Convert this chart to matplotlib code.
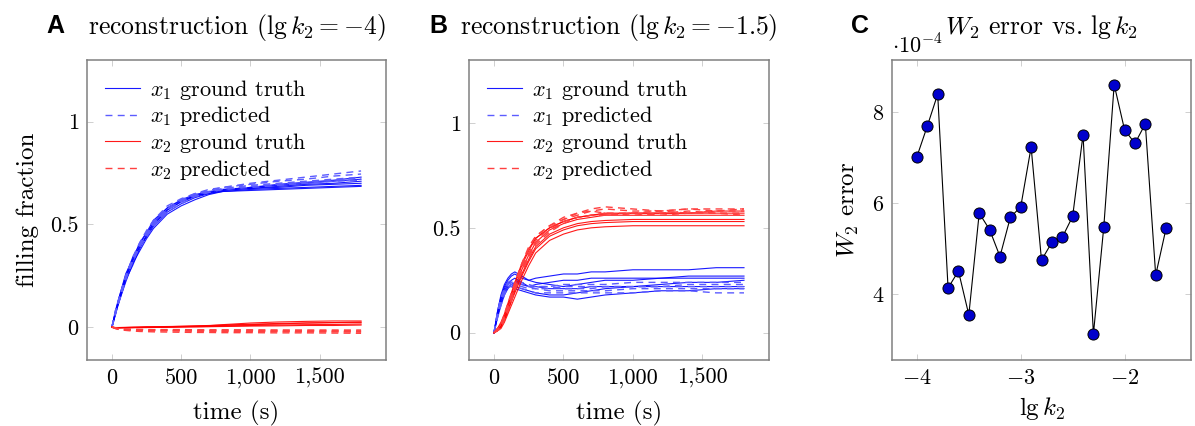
"""Reconstruction trajectories for two k2 values and the W2 error sweep over lg k2."""
import matplotlib
matplotlib.use("Agg")
import matplotlib.pyplot as plt
from matplotlib.ticker import FuncFormatter, FixedLocator

plt.rcParams["font.family"] = "serif"
plt.rcParams["font.serif"] = ["cmr10"]
plt.rcParams["mathtext.fontset"] = "cm"
plt.rcParams["axes.formatter.use_mathtext"] = True

# --- data --------------------------------------------------------------------------------
# panel A: lg k2 = -4
t_a = [0, 25, 50, 100, 150, 200, 250, 300, 400, 500, 600, 700, 800, 1000, 1200, 1400, 1600, 1800]
a_x1_truth = [
    [0, .07, .13, .24, .32, .39, .44, .49, .56, .60, .63, .65, .665, .675, .68, .69, .695, .70],
    [0, .06, .12, .22, .31, .37, .43, .48, .55, .59, .62, .645, .66, .67, .675, .68, .685, .69],
    [0, .08, .14, .25, .34, .40, .46, .50, .57, .61, .64, .655, .665, .68, .69, .70, .71, .72],
    [0, .07, .12, .23, .30, .38, .45, .51, .58, .62, .645, .66, .67, .675, .685, .695, .70, .71],
    [0, .06, .13, .24, .33, .39, .44, .50, .57, .61, .635, .655, .67, .68, .695, .705, .715, .73],
    [0, .07, .14, .26, .33, .41, .46, .52, .58, .615, .64, .65, .66, .665, .67, .675, .68, .685],
]
a_x1_pred = [
    [0, .07, .13, .24, .33, .40, .46, .51, .58, .62, .65, .67, .68, .70, .715, .73, .745, .76],
    [0, .07, .12, .23, .32, .39, .45, .50, .57, .61, .64, .66, .675, .69, .70, .71, .72, .73],
    [0, .06, .13, .25, .33, .40, .45, .50, .57, .615, .645, .66, .67, .685, .695, .705, .715, .725],
    [0, .08, .14, .25, .34, .41, .47, .52, .59, .625, .65, .665, .68, .695, .71, .72, .735, .745],
    [0, .07, .13, .24, .32, .39, .44, .49, .56, .60, .635, .655, .67, .68, .69, .70, .71, .715],
]
a_x2_truth = [
    [0, -.003, -.003, -.002, -.002, -.001, 0, 0, .001, .002, .004, .006, .008, .012, .015, .02, .022, .025],
    [0, -.002, -.002, -.001, 0, 0, .002, .002, .003, .004, .006, .008, .01, .014, .018, .02, .022, .022],
    [0, -.004, -.004, -.003, -.003, -.002, -.002, -.001, 0, .002, .002, .003, .005, .008, .01, .012, .013, .015],
    [0, -.003, -.003, -.003, -.002, -.002, -.002, -.001, -.001, 0, .001, .002, .003, .005, .006, .008, .008, .01],
    [0, -.002, -.002, -.002, -.001, 0, 0, 0, .002, .004, .005, .007, .012, .02, .025, .028, .03, .03],
]
a_x2_pred = [
    [0, -.005, -.008, -.01, -.012, -.012, -.013, -.013, -.014, -.014, -.015, -.015, -.015, -.016, -.016, -.017, -.017, -.018],
    [0, -.006, -.01, -.013, -.015, -.016, -.017, -.018, -.018, -.019, -.02, -.02, -.021, -.022, -.022, -.023, -.023, -.024],
    [0, -.007, -.012, -.016, -.019, -.021, -.022, -.023, -.024, -.025, -.026, -.026, -.027, -.027, -.028, -.028, -.029, -.03],
    [0, -.004, -.007, -.009, -.01, -.011, -.011, -.012, -.012, -.012, -.013, -.013, -.013, -.013, -.014, -.014, -.014, -.014],
    [0, -.006, -.009, -.011, -.013, -.014, -.015, -.016, -.016, -.017, -.018, -.018, -.019, -.02, -.02, -.021, -.021, -.022],
]

# panel B: lg k2 = -1.5
t_b = [0, 25, 50, 75, 100, 125, 150, 200, 250, 300, 400, 500, 600, 700, 800, 1000, 1200, 1400, 1600, 1800]
b_x1_truth = [
    [0, .10, .17, .22, .25, .27, .28, .26, .25, .26, .27, .28, .28, .29, .29, .30, .30, .30, .31, .31],
    [0, .08, .15, .20, .23, .25, .26, .24, .22, .23, .24, .25, .25, .26, .26, .26, .26, .27, .27, .27],
    [0, .09, .16, .21, .24, .23, .22, .21, .20, .19, .18, .18, .19, .20, .21, .22, .23, .24, .24, .25],
    [0, .07, .13, .18, .21, .23, .24, .23, .22, .22, .21, .21, .21, .22, .22, .22, .22, .22, .22, .22],
    [0, .10, .18, .23, .26, .28, .29, .27, .25, .24, .23, .22, .23, .24, .25, .25, .26, .26, .26, .26],
    [0, .08, .14, .19, .22, .22, .21, .20, .19, .18, .17, .17, .16, .17, .18, .19, .20, .20, .21, .21],
]
b_x1_pred = [
    [0, .09, .16, .20, .23, .24, .25, .24, .23, .22, .22, .21, .21, .21, .22, .22, .22, .23, .23, .23],
    [0, .07, .13, .18, .22, .23, .23, .22, .21, .21, .20, .20, .20, .20, .20, .21, .21, .21, .21, .21],
    [0, .10, .17, .21, .24, .25, .25, .23, .22, .22, .22, .23, .23, .23, .23, .24, .24, .24, .24, .24],
    [0, .08, .15, .19, .22, .22, .22, .21, .20, .19, .19, .19, .19, .19, .19, .19, .20, .20, .19, .19],
    [0, .09, .15, .20, .23, .24, .24, .23, .22, .21, .21, .22, .22, .22, .22, .22, .22, .22, .22, .22],
]
b_x2_truth = [
    [0, .01, .03, .07, .12, .17, .21, .30, .37, .43, .49, .52, .54, .55, .56, .56, .56, .56, .56, .56],
    [0, .01, .02, .05, .09, .13, .17, .25, .32, .38, .44, .47, .49, .50, .505, .51, .51, .51, .51, .51],
    [0, .02, .04, .08, .13, .18, .23, .32, .39, .45, .50, .53, .55, .56, .57, .57, .57, .57, .58, .58],
    [0, .01, .03, .06, .11, .15, .20, .28, .35, .41, .47, .50, .52, .53, .535, .54, .54, .54, .54, .54],
    [0, .02, .05, .09, .14, .19, .24, .33, .40, .45, .50, .53, .55, .56, .565, .57, .57, .57, .57, .57],
    [0, .01, .03, .06, .10, .15, .19, .27, .34, .40, .46, .49, .51, .52, .525, .53, .53, .53, .53, .53],
]
b_x2_pred = [
    [0, .01, .03, .07, .12, .16, .22, .31, .38, .44, .50, .54, .56, .58, .59, .58, .58, .59, .58, .59],
    [0, .02, .04, .08, .13, .18, .23, .32, .40, .46, .51, .54, .57, .58, .57, .57, .58, .57, .58, .58],
    [0, .01, .02, .06, .10, .15, .20, .29, .36, .42, .48, .52, .55, .56, .56, .57, .56, .57, .57, .56],
    [0, .02, .04, .09, .14, .19, .24, .33, .41, .46, .51, .55, .57, .59, .60, .59, .58, .59, .59, .59],
    [0, .01, .03, .07, .11, .16, .21, .30, .37, .43, .49, .53, .55, .56, .57, .56, .57, .58, .57, .57],
]

# panel C: W2 error (in units of 1e-4) vs lg k2
lg_k2 = [-4.0, -3.9, -3.8, -3.7, -3.6, -3.5, -3.4, -3.3, -3.2, -3.1, -3.0, -2.9, -2.8,
         -2.7, -2.6, -2.5, -2.4, -2.3, -2.2, -2.1, -2.0, -1.9, -1.8, -1.7, -1.6]
w2_err_e4 = [7.02, 7.69, 8.39, 4.14, 4.51, 3.55, 5.78, 5.42, 4.83, 5.69, 5.92, 7.23, 4.75,
             5.14, 5.25, 5.71, 7.50, 3.13, 5.48, 8.60, 7.61, 7.31, 7.74, 4.42, 5.45]

BLUE, RED = "#0000ff", "#ff0000"
BLUE_LT, RED_LT = "#5c5cff", "#ff4040"      # predicted curves are drawn lighter
FRAME = "#808080"
TICKC = "#c8c8c8"
DASH = (0, (5, 3.8))

W, H = 1195, 426
fig = plt.figure(figsize=(W / 100, H / 100), dpi=100)


def box(x0, x1, y0=60, y1=360):
    return [x0 / W, 1 - y1 / H, (x1 - x0) / W, (y1 - y0) / H]


def style(ax):
    for s in ax.spines.values():
        s.set_color(FRAME); s.set_linewidth(1.1)
    ax.tick_params(direction="in", length=4.5, width=0.6, color=TICKC, top=True, right=True,
                   labelsize=16, pad=6)


def traj_panel(ax, t, x1t, x1p, x2t, x2p, title):
    for i, c in enumerate(x1t):
        ax.plot(t, c, color=BLUE, lw=0.8, alpha=0.9, label=r"$x_1$ ground truth" if i == 0 else None)
    for i, c in enumerate(x1p):
        ax.plot(t, c, color=BLUE_LT, lw=1.0, ls=DASH,
                label=r"$x_1$ predicted" if i == 0 else None)
    for i, c in enumerate(x2t):
        ax.plot(t, c, color=RED, lw=0.8, alpha=0.9, label=r"$x_2$ ground truth" if i == 0 else None)
    for i, c in enumerate(x2p):
        ax.plot(t, c, color=RED_LT, lw=1.0, ls=DASH,
                label=r"$x_2$ predicted" if i == 0 else None)
    ax.set_xlim(-180, 1980)
    ax.xaxis.set_major_locator(FixedLocator([0, 500, 1000, 1500]))
    ax.xaxis.set_major_formatter(FuncFormatter(lambda v, _: f"{v:,.0f}"))
    ax.yaxis.set_major_locator(FixedLocator([0, 0.5, 1]))
    ax.yaxis.set_major_formatter(FuncFormatter(lambda v, _: f"{v:g}"))
    ax.set_xlabel("time (s)", fontsize=18, labelpad=9)
    ax.set_title(title, fontsize=18.5, pad=19)
    ax.legend(loc="upper left", frameon=False, fontsize=16, handlelength=1.6, handletextpad=0.45,
              labelspacing=0.12, borderaxespad=0.4, bbox_to_anchor=(0.0, 1.0))
    style(ax)


axA = fig.add_axes(box(87, 386))
traj_panel(axA, t_a, a_x1_truth, a_x1_pred, a_x2_truth, a_x2_pred, r"reconstruction ($\lg k_2 = -4$)")
axA.set_ylim(-0.16, 1.3)
axA.set_ylabel("filling fraction", fontsize=18, labelpad=8)

axB = fig.add_axes(box(469, 769))
traj_panel(axB, t_b, b_x1_truth, b_x1_pred, b_x2_truth, b_x2_pred, r"reconstruction ($\lg k_2 = -1.5$)")
axB.set_ylim(-0.13, 1.3)

axC = fig.add_axes(box(892, 1191))
axC.plot(lg_k2, w2_err_e4, color="black", lw=0.8, marker="o", ms=8, mfc="#0000cc", mec="black", mew=0.7)
axC.set_xlim(-4.24, -1.36)
axC.set_ylim(2.56, 9.14)
axC.xaxis.set_major_locator(FixedLocator([-4, -3, -2]))
axC.xaxis.set_major_formatter(FuncFormatter(lambda v, _: f"${v:g}$"))
axC.yaxis.set_major_locator(FixedLocator([4, 6, 8]))
axC.yaxis.set_major_formatter(FuncFormatter(lambda v, _: f"{v:g}"))
axC.set_xlabel(r"$\lg k_2$", fontsize=18, labelpad=5)
axC.set_ylabel(r"$W_2$ error", fontsize=18, labelpad=8)
axC.set_title(r"$W_2$ error vs. $\lg k_2$", fontsize=18.5, pad=19)
axC.text(0.0, 1.01, r"$\cdot 10^{-4}$", transform=axC.transAxes, ha="left", va="bottom", fontsize=16)
style(axC)

for lab, x in (("A", 55), ("B", 438), ("C", 860)):
    fig.text(x / W, 1 - 26 / H, lab, ha="center", va="center", fontsize=18,
             fontweight="bold", family="Liberation Sans")

fig.savefig("out.png", dpi=100)
